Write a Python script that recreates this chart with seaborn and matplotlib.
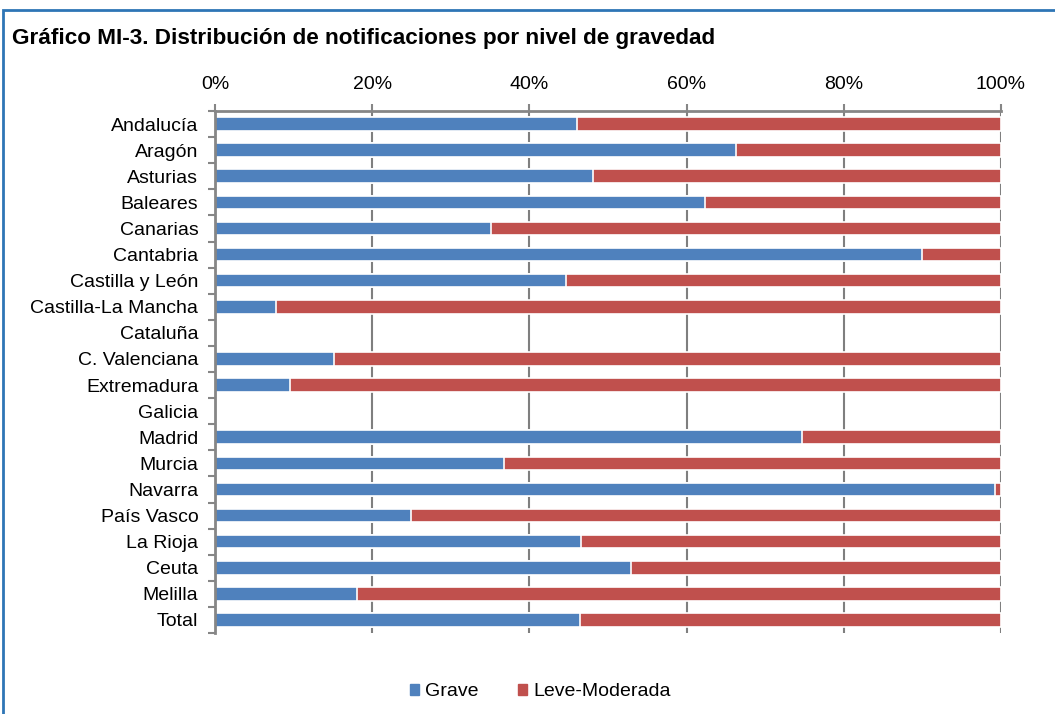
import numpy as np
import pandas as pd
import matplotlib.pyplot as plt
import seaborn as sns
from matplotlib.patches import Patch, Rectangle
from matplotlib.ticker import FixedLocator, PercentFormatter

# Data (percent of notifications per severity level)
regiones = ["Andalucía", "Aragón", "Asturias", "Baleares", "Canarias", "Cantabria",
            "Castilla y León", "Castilla-La Mancha", "Cataluña", "C. Valenciana",
            "Extremadura", "Galicia", "Madrid", "Murcia", "Navarra", "País Vasco",
            "La Rioja", "Ceuta", "Melilla", "Total"]
grave = [46.0, 66.3, 48.1, 62.3, 35.1, 90.0, 44.7, 7.8, np.nan, 15.1,
         9.5, np.nan, 74.7, 36.8, 99.2, 24.9, 46.6, 52.9, 18.1, 46.5]
leve_moderada = [54.0, 33.7, 51.9, 37.7, 64.9, 10.0, 55.3, 92.2, np.nan, 84.9,
                 90.5, np.nan, 25.3, 63.2, 0.8, 75.1, 53.4, 47.1, 81.9, 53.5]

df = pd.DataFrame({"region": regiones, "Grave": grave, "Leve-Moderada": leve_moderada})
df["acum"] = df["Grave"] + df["Leve-Moderada"]

azul = "#4F81BD"
rojo = "#C0504D"
gris = "#868686"

sns.set_theme(style="white")
plt.rcParams["font.family"] = ["Liberation Sans", "DejaVu Sans"]
plt.rcParams["text.color"] = "black"
plt.rcParams["xtick.labelcolor"] = "black"
plt.rcParams["ytick.labelcolor"] = "black"

fig = plt.figure(figsize=(10.55, 7.14), dpi=100)
ax = fig.add_axes([0.2038, 0.1134, 0.745, 0.7311])

sns.barplot(data=df, x="acum", y="region", color=rojo, orient="h", width=0.52,
            saturation=1, edgecolor="white", linewidth=1.2, ax=ax)
sns.barplot(data=df, x="Grave", y="region", color=azul, orient="h", width=0.52,
            saturation=1, edgecolor="white", linewidth=1.2, ax=ax)

ax.set_xlim(0, 100)
ax.set_ylim(len(regiones) - 0.5, -0.5)
ax.set_xlabel("")
ax.set_ylabel("")

# x axis on top
ax.xaxis.set_ticks_position("top")
ax.xaxis.set_label_position("top")
ax.set_xticks([0, 20, 40, 60, 80, 100])
ax.xaxis.set_major_formatter(PercentFormatter(decimals=0))
ax.tick_params(axis="x", which="major", direction="out", length=5, width=1.5,
               color=gris, labelsize=14, labelcolor="black", pad=8, top=True, bottom=False)
ax.grid(axis="x", color="#7F7F7F", linewidth=1.5, zorder=0)
ax.set_axisbelow(True)

# y axis: labels at categories, tick marks at boundaries
ax.tick_params(axis="y", which="major", length=0, labelsize=14, labelcolor="black", pad=12)
ax.yaxis.set_minor_locator(FixedLocator(np.arange(-0.5, len(regiones), 1)))
ax.tick_params(axis="y", which="minor", direction="out", length=5, width=1.5,
               color=gris, left=True)

for s in ["bottom", "right"]:
    ax.spines[s].set_visible(False)
for s in ["top", "left"]:
    ax.spines[s].set_color(gris)
    ax.spines[s].set_linewidth(2)

# legend at bottom
handles = [Patch(color=azul, label="Grave"), Patch(color=rojo, label="Leve-Moderada")]
fig.legend(handles=handles, loc="center", bbox_to_anchor=(0.512, 0.031), ncol=2,
           frameon=False, fontsize=14, handlelength=0.5, handleheight=0.5,
           handletextpad=0.3, columnspacing=2.0, labelcolor="black")

# title and frame
fig.text(0.0115, 0.946, "Gráfico MI-3. Distribución de notificaciones por nivel de gravedad",
         fontsize=16.2, fontweight="bold", color="black", ha="left", va="center")
fig.patches.append(Rectangle((0.003, -0.05), 1.05, 1.036, transform=fig.transFigure,
                             fill=False, edgecolor="#2E75B6", linewidth=2))

fig.savefig("out.png", dpi=100)
